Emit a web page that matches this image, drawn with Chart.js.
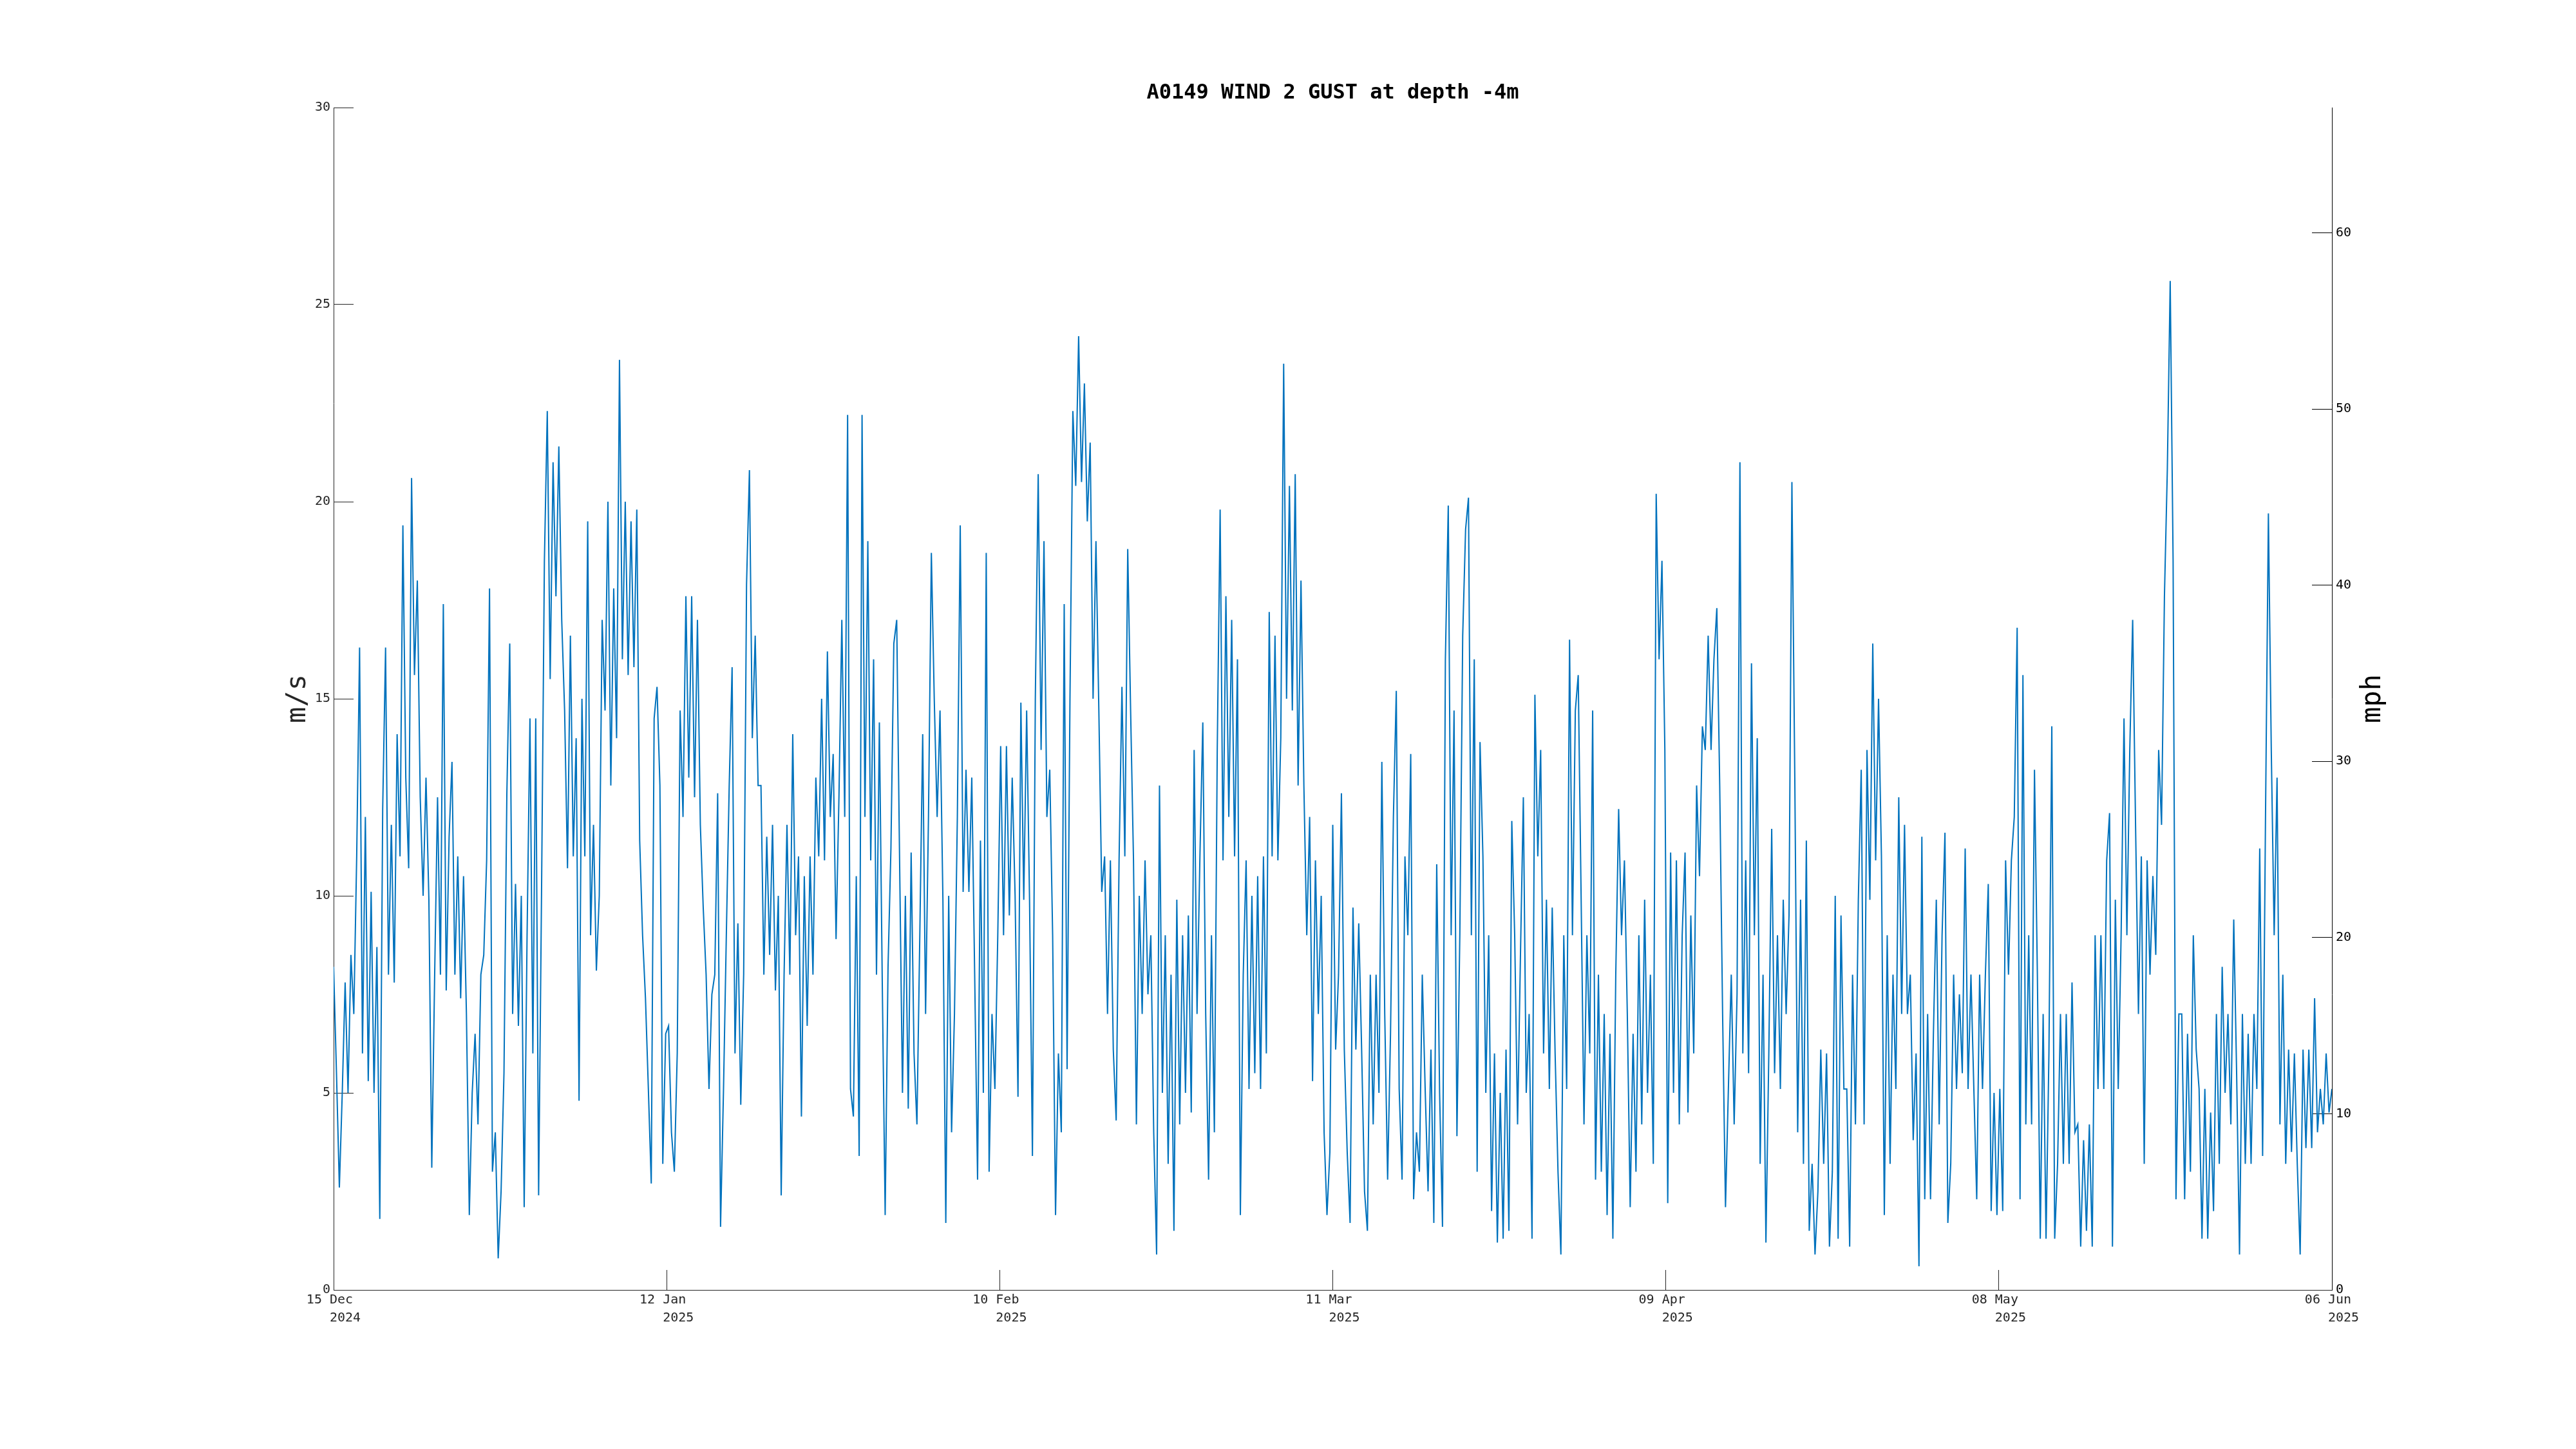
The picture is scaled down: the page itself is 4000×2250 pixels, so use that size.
<!DOCTYPE html>
<html><head><meta charset="utf-8">
<script src="https://cdn.jsdelivr.net/npm/chart.js@4/dist/chart.umd.min.js"></script>
<style>html,body{margin:0;padding:0;background:#fff;}canvas{display:block;}</style>
</head><body>
<canvas id="c" width="4000" height="2250" style="width:4000px;height:2250px"></canvas>
<script>
const titleText = "A0149 WIND 2 GUST at depth -4m";
const leftAxisTitle = "m/s";
const rightAxisTitle = "mph";
const xTickDates = ["15 Dec","12 Jan","10 Feb","11 Mar","09 Apr","08 May","06 Jun"];
const xTickYears = ["2024","2025","2025","2025","2025","2025","2025"];
const spanDays = 173;          // 15 Dec 2024 -> 06 Jun 2025
const yTicksMs = [0,5,10,15,20,25,30];
const yTicksMph = [0,10,20,30,40,50,60];
const msToMph = 2.23694;
const sampleHours = 6;
// wind gust (m/s), one value every 6 h
const gustMs = [
8.2,5.5,2.6,5.0, 7.8,5.0,8.5,7.0, 11.0,16.3,6.0,12.0, 5.3,10.1,5.0,8.7, 1.8,12.2,16.3,8.0,
11.8,7.8,14.1,11.0, 19.4,13.0,10.7,20.6, 15.6,18.0,12.5,10.0, 13.0,9.9,3.1,8.0, 12.5,8.0,17.4,7.6,
11.5,13.4,8.0,11.0, 7.4,10.5,7.0,1.9, 5.0,6.5,4.2,8.0, 8.5,10.9,17.8,3.0, 4.0,0.8,2.5,5.5,
12.6,16.4,7.0,10.3, 6.7,10.0,2.1,9.0, 14.5,6.0,14.5,2.4, 10.0,18.5,22.3,15.5, 21.0,17.6,21.4,17.0,
14.7,10.7,16.6,11.0, 14.0,4.8,15.0,11.0, 19.5,9.0,11.8,8.1, 10.0,17.0,14.7,20.0, 12.8,17.8,14.0,23.6,
16.0,20.0,15.6,19.5, 15.8,19.8,11.4,9.0, 7.4,5.1,2.7,14.5, 15.3,12.8,3.2,6.5, 6.7,4.0,3.0,6.0,
14.7,12.0,17.6,13.0, 17.6,12.5,17.0,11.8, 9.7,8.0,5.1,7.5, 8.0,12.6,1.6,5.0, 9.0,12.8,15.8,6.0,
9.3,4.7,8.0,17.9, 20.8,14.0,16.6,12.8, 12.8,8.0,11.5,8.5, 11.8,7.6,10.0,2.4, 8.0,11.8,8.0,14.1,
9.0,11.0,4.4,10.5, 6.7,11.0,8.0,13.0, 11.0,15.0,10.9,16.2, 12.0,13.6,8.9,12.5, 17.0,12.0,22.2,5.1,
4.4,10.5,3.4,22.2, 12.0,19.0,10.9,16.0, 8.0,14.4,7.8,1.9, 8.2,11.2,16.4,17.0, 10.9,5.0,10.0,4.6,
11.1,6.0,4.2,9.0, 14.1,7.0,12.0,18.7, 15.0,12.0,14.7,9.9, 1.7,10.0,4.0,7.0, 12.0,19.4,10.1,13.2,
10.1,13.0,8.0,2.8, 11.4,5.0,18.7,3.0, 7.0,5.1,9.0,13.8, 9.0,13.8,9.5,13.0, 10.0,4.9,14.9,9.9,
14.7,9.9,3.4,15.0, 20.7,13.7,19.0,12.0, 13.2,9.0,1.9,6.0, 4.0,17.4,5.6,15.0, 22.3,20.4,24.2,20.5,
23.0,19.5,21.5,15.0, 19.0,14.7,10.1,11.0, 7.0,10.9,6.1,4.3, 10.9,15.3,11.0,18.8, 14.7,10.9,4.2,10.0,
7.0,10.9,7.5,9.0, 4.0,0.9,12.8,5.0, 9.0,3.2,8.0,1.5, 9.9,4.2,9.0,5.0, 9.5,4.5,13.7,7.0,
11.0,14.4,7.0,2.8, 9.0,4.0,13.7,19.8, 10.9,17.6,12.0,17.0, 11.0,16.0,1.9,8.0, 10.9,5.1,10.0,5.5,
10.5,5.1,11.0,6.0, 17.2,11.0,16.6,10.9, 14.0,23.5,15.0,20.4, 14.7,20.7,12.8,18.0, 12.8,9.0,12.0,5.3,
10.9,7.0,10.0,4.0, 1.9,3.5,11.8,6.1, 8.0,12.6,6.1,3.5, 1.7,9.7,6.1,9.3, 6.1,2.5,1.5,8.0,
4.2,8.0,5.0,13.4, 7.0,2.8,6.5,12.0, 15.2,5.1,2.8,11.0, 9.0,13.6,2.3,4.0, 3.0,8.0,5.1,2.5,
6.1,1.7,10.8,5.0, 1.6,16.0,19.9,9.0, 14.7,3.9,9.0,16.6, 19.3,20.1,9.0,16.0, 3.0,13.9,11.0,5.0,
9.0,2.0,6.0,1.2, 5.0,1.3,6.1,1.5, 11.9,9.0,4.2,8.5, 12.5,5.0,7.0,1.3, 15.1,11.0,13.7,6.0,
9.9,5.1,9.7,6.0, 3.0,0.9,9.0,5.1, 16.5,9.0,14.7,15.6, 10.0,4.2,9.0,6.0, 14.7,2.8,8.0,3.0,
7.0,1.9,6.5,1.3, 8.0,12.2,9.0,10.9, 7.0,2.1,6.5,3.0, 9.0,4.2,9.9,5.0, 8.0,3.2,20.2,16.0,
18.5,13.7,2.2,11.1, 5.0,10.9,4.2,9.0, 11.1,4.5,9.5,6.0, 12.8,10.5,14.3,13.7, 16.6,13.7,16.0,17.3,
12.8,7.0,2.1,5.1, 8.0,4.2,7.5,21.0, 6.0,10.9,5.5,15.9, 9.0,14.0,3.2,8.0, 1.2,6.0,11.7,5.5,
9.0,5.1,9.9,7.0, 9.5,20.5,13.0,4.0, 9.9,3.2,11.4,1.5, 3.2,0.9,2.5,6.1, 3.2,6.0,1.1,3.0,
10.0,1.3,9.5,5.1, 5.1,1.1,8.0,4.2, 9.9,13.2,4.2,13.7, 9.9,16.4,10.9,15.0, 11.0,1.9,9.0,3.2,
8.0,5.1,12.5,7.0, 11.8,7.0,8.0,3.8, 6.0,0.6,11.5,2.3, 7.0,2.3,6.5,9.9, 4.2,9.0,11.6,1.7,
3.2,8.0,5.1,7.5, 5.5,11.2,5.1,8.0, 5.1,2.3,8.0,5.1, 8.0,10.3,2.0,5.0, 1.9,5.1,2.0,10.9,
8.0,10.9,12.0,16.8, 2.3,15.6,4.2,9.0, 4.2,13.2,8.0,1.3, 7.0,1.3,6.0,14.3, 1.3,3.2,7.0,3.2,
7.0,3.2,7.8,4.0, 4.2,1.1,3.8,1.5, 4.2,1.1,9.0,5.1, 9.0,5.1,10.9,12.1, 1.1,9.9,5.1,9.0,
14.5,9.0,13.7,17.0, 11.8,7.0,11.0,3.2, 10.9,8.0,10.5,8.5, 13.7,11.8,17.6,20.8, 25.6,18.5,2.3,7.0,
7.0,2.3,6.5,3.0, 9.0,6.1,5.1,1.3, 5.1,1.3,4.5,2.0, 7.0,3.2,8.2,5.0, 7.0,4.2,9.4,5.5,
0.9,7.0,3.2,6.5, 3.2,7.0,5.1,11.2, 3.4,12.0,19.7,13.7, 9.0,13.0,4.2,8.0, 3.2,6.1,3.5,6.0,
3.2,0.9,6.1,3.6, 6.1,3.6,7.4,4.0, 5.1,4.2,6.0,4.5, 5.1
];

const points = gustMs.map((v, i) => ({x: i * sampleHours / 24, y: v}));
const MONO = '"DejaVu Sans Mono", "Liberation Mono", monospace';

const textPlugin = {
  id: 'texts',
  afterDraw(chart) {
    const ctx = chart.ctx, a = chart.chartArea;
    const cy = (a.top + a.bottom) / 2;
    ctx.save();
    ctx.fillStyle = '#000';
    ctx.font = 'bold 32px ' + MONO;
    ctx.textAlign = 'center';
    ctx.textBaseline = 'alphabetic';
    ctx.fillText(titleText, (a.left + a.right) / 2, 153);

    ctx.font = '42px ' + MONO;
    ctx.fillStyle = '#262626';
    ctx.save();
    ctx.translate(474, cy);
    ctx.rotate(-Math.PI / 2);
    ctx.fillText(leftAxisTitle, 0, 0);
    ctx.restore();

    ctx.fillStyle = '#000';
    ctx.save();
    ctx.translate(3696, cy);
    ctx.rotate(-Math.PI / 2);
    ctx.fillText(rightAxisTitle, 0, 0);
    ctx.restore();
    ctx.restore();
  }
};

new Chart(document.getElementById('c'), {
  type: 'line',
  data: {
    datasets: [{
      data: points,
      yAxisID: 'y',
      borderColor: '#0072BD',
      borderWidth: 2,
      pointRadius: 0,
      fill: false,
      tension: 0
    }]
  },
  options: {
    responsive: false,
    devicePixelRatio: 1,
    animation: false,
    layout: {padding: {top: 167, left: 0, right: 0, bottom: 0}},
    plugins: {legend: {display: false}, title: {display: false}, tooltip: {enabled: false}},
    scales: {
      x: {
        type: 'linear', position: 'bottom', min: 0, max: spanDays,
        afterFit(s) { s.height = 247; },
        afterBuildTicks(s) {
          const n = xTickDates.length;
          s.ticks = xTickDates.map((_, i) => ({value: s.min + i * (s.max - s.min) / (n - 1)}));
        },
        ticks: {
          autoSkip: false, maxRotation: 0, minRotation: 0, padding: 33, color: '#262626',
          font: {family: MONO, size: 20, lineHeight: 1.4},
          callback: (v, i) => [xTickDates[i] + ' ', '   ' + xTickYears[i]]
        },
        grid: {drawOnChartArea: false, drawTicks: true, tickLength: -31, color: '#262626', lineWidth: 1},
        border: {display: true, color: '#262626', width: 1}
      },
      y: {
        type: 'linear', position: 'left', min: 0, max: 30,
        afterFit(s) { s.width = 518; },
        afterBuildTicks(s) { s.ticks = yTicksMs.map(v => ({value: v})); },
        ticks: {padding: 36, color: '#262626', font: {family: MONO, size: 20}, callback: v => String(v)},
        grid: {drawOnChartArea: false, drawTicks: true, tickLength: -31, color: '#262626', lineWidth: 1},
        border: {display: true, color: '#262626', width: 1}
      },
      y2: {
        type: 'linear', position: 'right', min: 0, max: 30 * msToMph,
        afterFit(s) { s.width = 379; },
        afterBuildTicks(s) { s.ticks = yTicksMph.map(v => ({value: v})); },
        ticks: {padding: 37, color: '#000', font: {family: MONO, size: 20}, callback: v => String(v)},
        grid: {drawOnChartArea: false, drawTicks: true, tickLength: -31, color: '#000', lineWidth: 1},
        border: {display: true, color: '#000', width: 1}
      }
    }
  },
  plugins: [textPlugin]
});
</script>
</body></html>
